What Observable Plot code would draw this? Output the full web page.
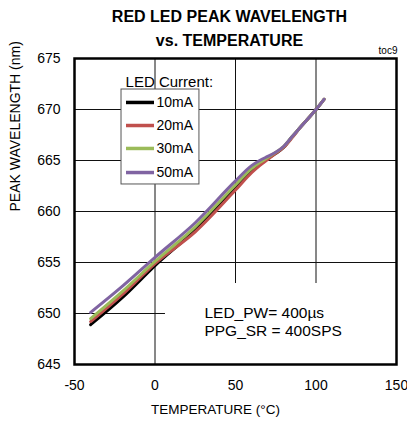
<!DOCTYPE html>
<html>
<head>
<meta charset="utf-8">
<script src="https://cdn.jsdelivr.net/npm/d3@7"></script>
<script src="https://cdn.jsdelivr.net/npm/@observablehq/plot@0.6"></script>
<style>
  html, body { margin: 0; padding: 0; background: #fff; }
  #chart { width: 407px; height: 423px; }
</style>
</head>
<body>
<div id="chart"></div>
<script>
// ---- data ----
const temps = [-40, -20, 0, 25, 50, 60, 65, 70, 75, 80, 85, 90, 95, 100, 105];
const seriesNames = ["10mA", "20mA", "30mA", "50mA"];
const series10mA = [648.9, 651.6, 654.7, 658.2, 662.4, 664.0, 664.6, 665.2, 665.7, 666.3, 667.3, 668.2, 669.1, 670.0, 671.0];
const series20mA = [649.2, 651.9, 654.9, 658.0, 662.1, 663.8, 664.5, 665.1, 665.7, 666.3, 667.2, 668.2, 669.1, 670.0, 671.0];
const series30mA = [649.5, 652.2, 655.1, 658.5, 662.6, 664.2, 664.8, 665.3, 665.8, 666.4, 667.3, 668.2, 669.1, 670.0, 671.0];
const series50mA = [650.1, 652.7, 655.5, 658.9, 663.0, 664.5, 665.0, 665.4, 665.8, 666.4, 667.3, 668.2, 669.1, 670.0, 671.0];
const seriesColors = ["#000000", "#c0504d", "#9bbb59", "#8064a2"];
const xTicks = [-50, 0, 50, 100, 150];
const yTicks = [645, 650, 655, 660, 665, 670, 675];
const xGrid = [0, 50, 100];
const yGrid = [650, 655, 660, 665, 670];
const titleLines = ["RED LED PEAK WAVELENGTH", "vs. TEMPERATURE"];
const noteText = "LED_PW= 400µs\nPPG_SR = 400SPS";

// ---- build table ----
const allSeries = [series10mA, series20mA, series30mA, series50mA];
const rows = [];
seriesNames.forEach((name, s) => {
  temps.forEach((t, i) => rows.push({series: name, T: t, v: allSeries[s][i]}));
});

const font = "'Liberation Sans', Arial, Helvetica, sans-serif";
const legendY = [670.69, 668.43, 666.18, 663.82];

const chart = Plot.plot({
  width: 407,
  height: 423,
  marginTop: 58,
  marginBottom: 59,
  marginLeft: 74,
  marginRight: 11,
  style: {fontFamily: font, fontSize: "14px", background: "#fff", color: "#000", overflow: "visible"},
  x: {domain: [-50, 150]},
  y: {domain: [645, 675]},
  color: {domain: seriesNames, range: seriesColors},
  marks: [
    Plot.ruleX(xGrid, {stroke: "#111", strokeWidth: 1}),
    Plot.ruleY(yGrid, {stroke: "#111", strokeWidth: 1}),
    // white box behind the note
    Plot.rect([0], {x1: 6.5, x2: 150, y1: 645, y2: 652.94, fill: "white"}),
    Plot.line(rows, {x: "T", y: "v", z: "series", stroke: "series", strokeWidth: 3, curve: "monotone-x"}),
    Plot.axisX({ticks: xTicks, tickSize: 0, tickPadding: 16, label: null, fontSize: 14, tickFormat: d => String(d)}),
    Plot.axisY({ticks: yTicks, tickSize: 0, tickPadding: 14, label: null, fontSize: 14}),
    // legend
    Plot.text(["LED Current:"], {x: -18.3, y: 672.65, text: d => d, textAnchor: "start", fontSize: 15}),
    Plot.rect([0], {x1: -20.8, x2: 27.6, y1: 662.65, y2: 671.96, fill: "white", stroke: "#555", strokeWidth: 1}),
    Plot.ruleY(seriesNames, {y: (d, i) => legendY[i], x1: -17.7, x2: -0.3, stroke: d => d, strokeWidth: 3.5}),
    Plot.text(seriesNames, {x: 0.9, y: (d, i) => legendY[i], text: d => d, textAnchor: "start", fontSize: 14}),
    // note
    Plot.text([noteText], {x: 30.7, y: 649.2, text: d => d, textAnchor: "start", fontSize: 15.5, lineHeight: 1.16}),
    Plot.frame({stroke: "#000", strokeWidth: 2.5}),
    // titles and axis labels
    Plot.text([titleLines[0]], {frameAnchor: "top", lineAnchor: "middle", dx: -6, dy: -42, text: d => d, fontSize: 16, fontWeight: "bold", letterSpacing: "-0.3px"}),
    Plot.text([titleLines[1]], {frameAnchor: "top", lineAnchor: "middle", dx: -6, dy: -18, text: d => d, fontSize: 16, fontWeight: "bold", letterSpacing: "-0.3px"}),
    Plot.text(["toc9"], {frameAnchor: "top-right", lineAnchor: "middle", dx: 1, dy: -8, text: d => d, fontSize: 10, textAnchor: "end"}),
    Plot.text(["TEMPERATURE (°C)"], {frameAnchor: "bottom", lineAnchor: "middle", dx: -20, dy: 45, text: d => d, fontSize: 13.5}),
    Plot.text(["PEAK WAVELENGTH (nm)"], {frameAnchor: "left", lineAnchor: "middle", dx: -59, rotate: -90, text: d => d, fontSize: 14})
  ]
});
document.getElementById("chart").appendChild(chart);
</script>
</body>
</html>
